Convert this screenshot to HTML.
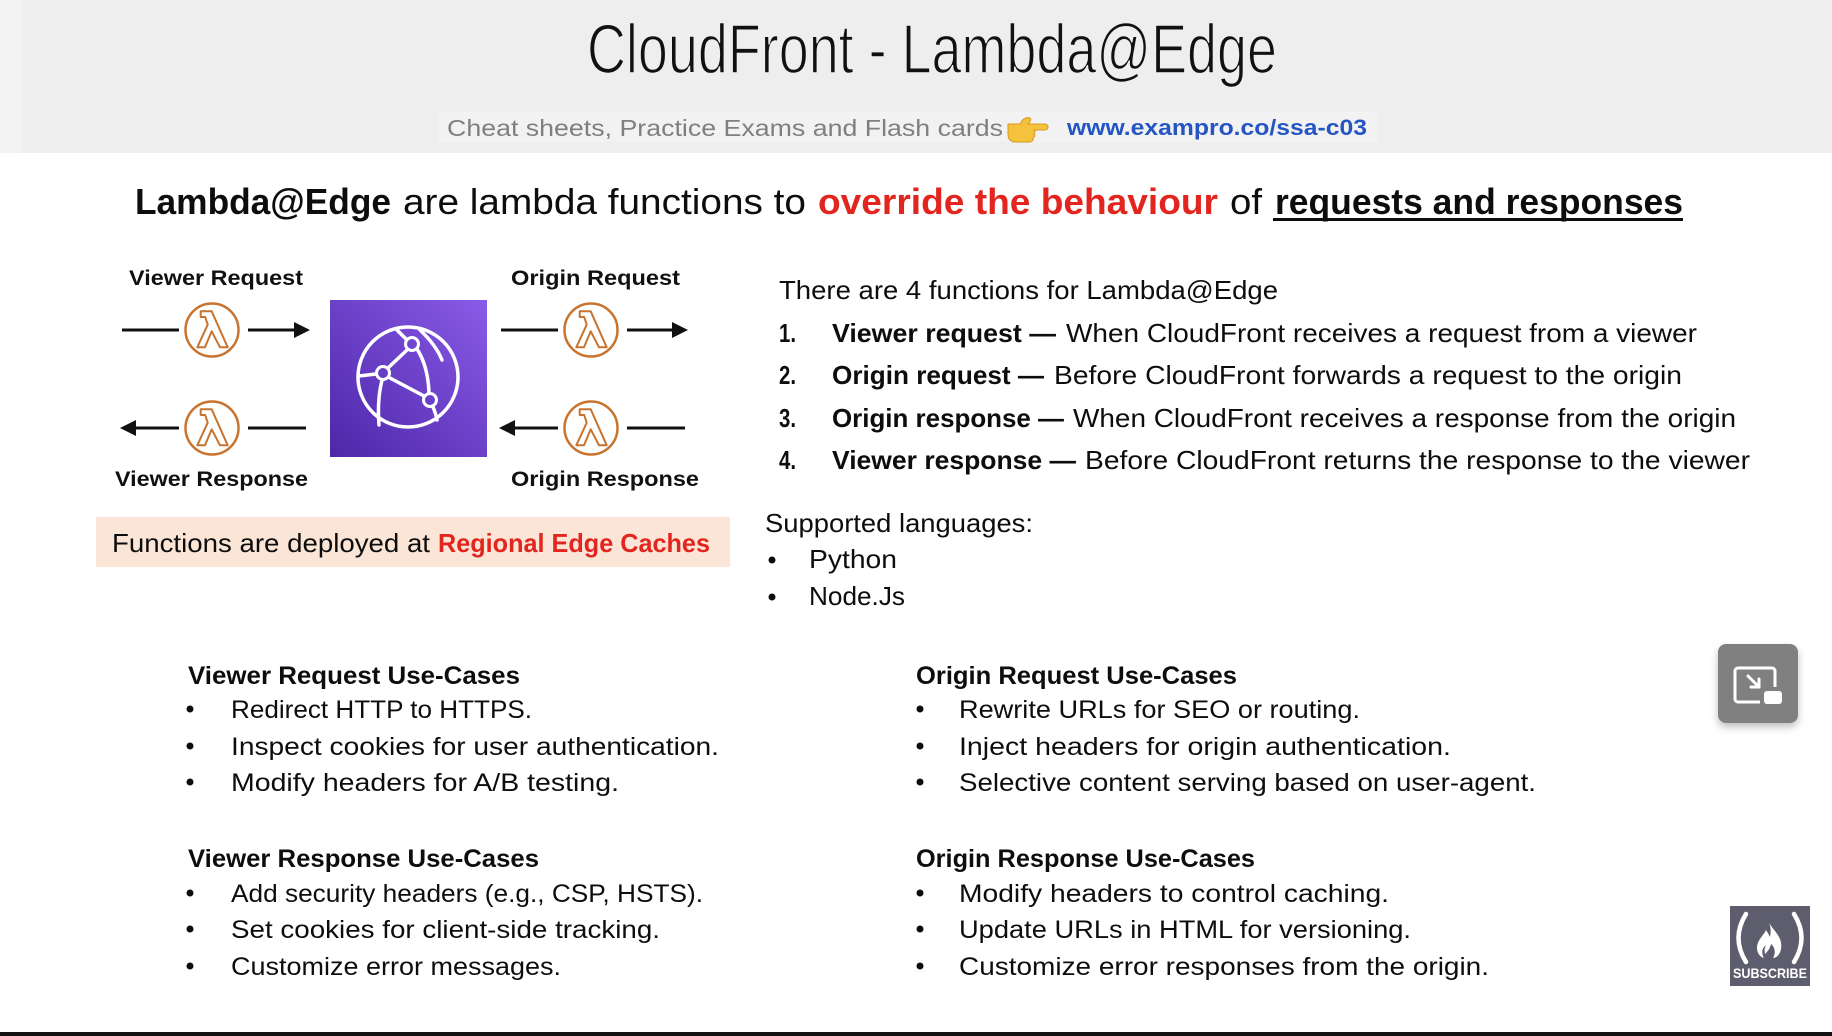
<!DOCTYPE html>
<html>
<head>
<meta charset="utf-8">
<style>
html,body{margin:0;padding:0;background:#fff;}
svg{display:block;}
text{font-family:"Liberation Sans",Arial,sans-serif;}
</style>
</head>
<body>
<svg width="1832" height="1036" viewBox="0 0 1832 1036" xmlns="http://www.w3.org/2000/svg">
<defs>
  <linearGradient id="pg" x1="0" y1="1" x2="1" y2="0">
    <stop offset="0" stop-color="#4d27a8"/>
    <stop offset="1" stop-color="#8a5be8"/>
  </linearGradient>
  <filter id="sh" x="-30%" y="-30%" width="160%" height="170%">
    <feDropShadow dx="0" dy="4" stdDeviation="4" flood-color="#000" flood-opacity="0.25"/>
  </filter>
</defs>

<!-- background -->
<rect x="0" y="0" width="1832" height="1036" fill="#ffffff"/>
<rect x="0" y="0" width="1832" height="153" fill="#eeeeee"/>
<rect x="0" y="0" width="22" height="153" fill="#f3f3f3"/>
<rect x="438" y="112" width="940" height="30" fill="#f2f2f2"/>

<!-- title -->
<text x="587" y="73" font-size="70" fill="#111" stroke="#eeeeee" stroke-width="1.6" textLength="690" lengthAdjust="spacingAndGlyphs">CloudFront - Lambda@Edge</text>

<!-- subtitle -->
<text x="447" y="136" font-size="23" fill="#7f7f7f" textLength="556" lengthAdjust="spacingAndGlyphs">Cheat sheets, Practice Exams and Flash cards</text>
<g>
  <path d="M1008,124 h12 q4,-8 10,-6 q2,2 -2,6 h16 q4,0 4,3 q0,3 -4,3 h-10 q2,2 0,4 q2,2 -1,4 q1,3 -3,4 h-14 q-8,0 -8,-8 z" fill="#f4c23c" stroke="#d89a1e" stroke-width="1"/>
</g>
<text x="1067" y="135" font-size="22" font-weight="bold" fill="#2455c3" textLength="300" lengthAdjust="spacingAndGlyphs">www.exampro.co/ssa-c03</text>

<!-- main statement -->
<text x="135" y="214" font-size="36" font-weight="bold" fill="#0d0d0d" textLength="256" lengthAdjust="spacingAndGlyphs">Lambda@Edge</text>
<text x="403" y="214" font-size="36" fill="#0d0d0d" textLength="403" lengthAdjust="spacingAndGlyphs">are lambda functions to</text>
<text x="818" y="214" font-size="36" font-weight="bold" fill="#e2261f" textLength="400" lengthAdjust="spacingAndGlyphs">override the behaviour</text>
<text x="1230" y="214" font-size="36" fill="#0d0d0d" textLength="32" lengthAdjust="spacingAndGlyphs">of</text>
<text x="1275" y="214" font-size="36" font-weight="bold" fill="#0d0d0d" textLength="408" lengthAdjust="spacingAndGlyphs">requests and responses</text>
<rect x="1273" y="218" width="410" height="3" fill="#0d0d0d"/>

<!-- diagram labels -->
<text x="129" y="285" font-size="21" font-weight="bold" fill="#111" textLength="174" lengthAdjust="spacingAndGlyphs">Viewer Request</text>
<text x="511" y="285" font-size="21" font-weight="bold" fill="#111" textLength="169" lengthAdjust="spacingAndGlyphs">Origin Request</text>
<text x="115" y="486" font-size="21" font-weight="bold" fill="#111" textLength="193" lengthAdjust="spacingAndGlyphs">Viewer Response</text>
<text x="511" y="486" font-size="21" font-weight="bold" fill="#111" textLength="188" lengthAdjust="spacingAndGlyphs">Origin Response</text>

<!-- connectors -->
<g stroke="#111" stroke-width="3" fill="none">
  <line x1="122" y1="330" x2="179" y2="330"/>
  <line x1="248" y1="330" x2="298" y2="330"/>
  <line x1="501" y1="330" x2="558" y2="330"/>
  <line x1="627" y1="330" x2="676" y2="330"/>
  <line x1="132" y1="428" x2="179" y2="428"/>
  <line x1="248" y1="428" x2="306" y2="428"/>
  <line x1="511" y1="428" x2="558" y2="428"/>
  <line x1="627" y1="428" x2="685" y2="428"/>
</g>
<g fill="#111">
  <polygon points="310,330 294,322 294,338"/>
  <polygon points="688,330 672,322 672,338"/>
  <polygon points="120,428 136,420 136,436"/>
  <polygon points="499,428 515,420 515,436"/>
</g>

<!-- lambda icons -->
<g fill="none" stroke="#c8742f" stroke-width="2.5" stroke-linejoin="round">
  <g transform="translate(212,330)">
    <circle cx="0" cy="0" r="26.5"/>
    <path d="M-11.3,-18.7 L-0.3,-18.7 L15.7,17.3 L8,17.3 L-0.3,1.3 L-7,17.3 L-14.7,17.3 L-4.3,-5.3 L-6.8,-13 L-11.3,-13 Z" stroke-width="2"/>
  </g>
  <g transform="translate(591,330)">
    <circle cx="0" cy="0" r="26.5"/>
    <path d="M-11.3,-18.7 L-0.3,-18.7 L15.7,17.3 L8,17.3 L-0.3,1.3 L-7,17.3 L-14.7,17.3 L-4.3,-5.3 L-6.8,-13 L-11.3,-13 Z" stroke-width="2"/>
  </g>
  <g transform="translate(212,428)">
    <circle cx="0" cy="0" r="26.5"/>
    <path d="M-11.3,-18.7 L-0.3,-18.7 L15.7,17.3 L8,17.3 L-0.3,1.3 L-7,17.3 L-14.7,17.3 L-4.3,-5.3 L-6.8,-13 L-11.3,-13 Z" stroke-width="2"/>
  </g>
  <g transform="translate(591,428)">
    <circle cx="0" cy="0" r="26.5"/>
    <path d="M-11.3,-18.7 L-0.3,-18.7 L15.7,17.3 L8,17.3 L-0.3,1.3 L-7,17.3 L-14.7,17.3 L-4.3,-5.3 L-6.8,-13 L-11.3,-13 Z" stroke-width="2"/>
  </g>
</g>

<!-- CloudFront icon -->
<rect x="330" y="300" width="157" height="157" fill="url(#pg)"/>
<g fill="none" stroke="#fff" stroke-width="3.5" stroke-linecap="round">
  <circle cx="408" cy="377" r="50"/>
  <line x1="396" y1="329" x2="406" y2="339"/>
  <line x1="407" y1="350" x2="389" y2="367"/>
  <line x1="376" y1="374" x2="359" y2="376"/>
  <line x1="390" y1="378" x2="424" y2="396"/>
  <path d="M417,349 Q428,366 429,393"/>
  <path d="M433,407 Q436,414 437,420"/>
  <path d="M382,380 Q377,400 379,425"/>
  <path d="M420,330 Q436,345 442,360"/>
  <circle cx="412" cy="344" r="6.5" stroke-width="3"/>
  <circle cx="383" cy="373" r="6.5" stroke-width="3"/>
  <circle cx="430" cy="400" r="6.5" stroke-width="3"/>
</g>

<!-- functions box -->
<rect x="96" y="517" width="634" height="50" fill="#fbe5d6"/>
<text x="112" y="552" font-size="26" fill="#0d0d0d" textLength="318" lengthAdjust="spacingAndGlyphs">Functions are deployed at</text>
<text x="438" y="552" font-size="26" font-weight="bold" fill="#e2261f" textLength="272" lengthAdjust="spacingAndGlyphs">Regional Edge Caches</text>

<!-- right list -->
<text x="779" y="299" font-size="26" fill="#0d0d0d" textLength="499" lengthAdjust="spacingAndGlyphs">There are 4 functions for Lambda@Edge</text>

<text x="779" y="342" font-size="26" font-weight="bold" fill="#0d0d0d" textLength="17" lengthAdjust="spacingAndGlyphs">1.</text>
<text x="832" y="342" font-size="26" font-weight="bold" fill="#0d0d0d" textLength="224" lengthAdjust="spacingAndGlyphs">Viewer request —</text>
<text x="1066" y="342" font-size="26" fill="#0d0d0d" textLength="631" lengthAdjust="spacingAndGlyphs">When CloudFront receives a request from a viewer</text>

<text x="779" y="384" font-size="26" font-weight="bold" fill="#0d0d0d" textLength="17" lengthAdjust="spacingAndGlyphs">2.</text>
<text x="832" y="384" font-size="26" font-weight="bold" fill="#0d0d0d" textLength="212" lengthAdjust="spacingAndGlyphs">Origin request —</text>
<text x="1054" y="384" font-size="26" fill="#0d0d0d" textLength="628" lengthAdjust="spacingAndGlyphs">Before CloudFront forwards a request to the origin</text>

<text x="779" y="427" font-size="26" font-weight="bold" fill="#0d0d0d" textLength="17" lengthAdjust="spacingAndGlyphs">3.</text>
<text x="832" y="427" font-size="26" font-weight="bold" fill="#0d0d0d" textLength="232" lengthAdjust="spacingAndGlyphs">Origin response —</text>
<text x="1073" y="427" font-size="26" fill="#0d0d0d" textLength="663" lengthAdjust="spacingAndGlyphs">When CloudFront receives a response from the origin</text>

<text x="779" y="469" font-size="26" font-weight="bold" fill="#0d0d0d" textLength="17" lengthAdjust="spacingAndGlyphs">4.</text>
<text x="832" y="469" font-size="26" font-weight="bold" fill="#0d0d0d" textLength="244" lengthAdjust="spacingAndGlyphs">Viewer response —</text>
<text x="1085" y="469" font-size="26" fill="#0d0d0d" textLength="665" lengthAdjust="spacingAndGlyphs">Before CloudFront returns the response to the viewer</text>

<text x="765" y="532" font-size="26" fill="#0d0d0d" textLength="268" lengthAdjust="spacingAndGlyphs">Supported languages:</text>
<circle cx="772" cy="560" r="3.5" fill="#0d0d0d"/>
<text x="809" y="568" font-size="26" fill="#0d0d0d" textLength="88" lengthAdjust="spacingAndGlyphs">Python</text>
<circle cx="772" cy="597" r="3.5" fill="#0d0d0d"/>
<text x="809" y="605" font-size="26" fill="#0d0d0d" textLength="96" lengthAdjust="spacingAndGlyphs">Node.Js</text>

<!-- use cases left -->
<text x="188" y="684" font-size="25" font-weight="bold" fill="#0d0d0d" textLength="332" lengthAdjust="spacingAndGlyphs">Viewer Request Use-Cases</text>
<circle cx="190" cy="709" r="3.5" fill="#0d0d0d"/>
<text x="231" y="718" font-size="25" fill="#0d0d0d" textLength="301" lengthAdjust="spacingAndGlyphs">Redirect HTTP to HTTPS.</text>
<circle cx="190" cy="746" r="3.5" fill="#0d0d0d"/>
<text x="231" y="755" font-size="25" fill="#0d0d0d" textLength="488" lengthAdjust="spacingAndGlyphs">Inspect cookies for user authentication.</text>
<circle cx="190" cy="782" r="3.5" fill="#0d0d0d"/>
<text x="231" y="791" font-size="25" fill="#0d0d0d" textLength="388" lengthAdjust="spacingAndGlyphs">Modify headers for A/B testing.</text>

<text x="188" y="867" font-size="25" font-weight="bold" fill="#0d0d0d" textLength="351" lengthAdjust="spacingAndGlyphs">Viewer Response Use-Cases</text>
<circle cx="190" cy="893" r="3.5" fill="#0d0d0d"/>
<text x="231" y="902" font-size="25" fill="#0d0d0d" textLength="472" lengthAdjust="spacingAndGlyphs">Add security headers (e.g., CSP, HSTS).</text>
<circle cx="190" cy="929" r="3.5" fill="#0d0d0d"/>
<text x="231" y="938" font-size="25" fill="#0d0d0d" textLength="429" lengthAdjust="spacingAndGlyphs">Set cookies for client-side tracking.</text>
<circle cx="190" cy="966" r="3.5" fill="#0d0d0d"/>
<text x="231" y="975" font-size="25" fill="#0d0d0d" textLength="330" lengthAdjust="spacingAndGlyphs">Customize error messages.</text>

<!-- use cases right -->
<text x="916" y="684" font-size="25" font-weight="bold" fill="#0d0d0d" textLength="321" lengthAdjust="spacingAndGlyphs">Origin Request Use-Cases</text>
<circle cx="920" cy="709" r="3.5" fill="#0d0d0d"/>
<text x="959" y="718" font-size="25" fill="#0d0d0d" textLength="401" lengthAdjust="spacingAndGlyphs">Rewrite URLs for SEO or routing.</text>
<circle cx="920" cy="746" r="3.5" fill="#0d0d0d"/>
<text x="959" y="755" font-size="25" fill="#0d0d0d" textLength="492" lengthAdjust="spacingAndGlyphs">Inject headers for origin authentication.</text>
<circle cx="920" cy="782" r="3.5" fill="#0d0d0d"/>
<text x="959" y="791" font-size="25" fill="#0d0d0d" textLength="577" lengthAdjust="spacingAndGlyphs">Selective content serving based on user-agent.</text>

<text x="916" y="867" font-size="25" font-weight="bold" fill="#0d0d0d" textLength="339" lengthAdjust="spacingAndGlyphs">Origin Response Use-Cases</text>
<circle cx="920" cy="893" r="3.5" fill="#0d0d0d"/>
<text x="959" y="902" font-size="25" fill="#0d0d0d" textLength="430" lengthAdjust="spacingAndGlyphs">Modify headers to control caching.</text>
<circle cx="920" cy="929" r="3.5" fill="#0d0d0d"/>
<text x="959" y="938" font-size="25" fill="#0d0d0d" textLength="452" lengthAdjust="spacingAndGlyphs">Update URLs in HTML for versioning.</text>
<circle cx="920" cy="966" r="3.5" fill="#0d0d0d"/>
<text x="959" y="975" font-size="25" fill="#0d0d0d" textLength="530" lengthAdjust="spacingAndGlyphs">Customize error responses from the origin.</text>

<!-- picture-in-picture button -->
<rect x="1718" y="644" width="80" height="79" rx="8" fill="#808080" filter="url(#sh)"/>
<rect x="1735" y="668" width="40" height="34" rx="3" fill="none" stroke="#fff" stroke-width="3"/>
<rect x="1760" y="687" width="26" height="21" rx="3" fill="#808080"/>
<rect x="1764" y="691" width="18" height="13" rx="3" fill="#fff"/>
<g stroke="#fff" stroke-width="3" fill="none" stroke-linecap="round" stroke-linejoin="round">
  <line x1="1748" y1="676" x2="1759" y2="687"/>
  <polyline points="1759,679 1759,687 1751,687"/>
</g>

<!-- subscribe logo -->
<rect x="1730" y="906" width="80" height="80" fill="#5d5d6d"/>
<g fill="none" stroke="#fff" stroke-width="4.5" stroke-linecap="round">
  <path d="M1746,914 Q1731,938 1746,962"/>
  <path d="M1794,914 Q1809,938 1794,962"/>
</g>
<path d="M1769,923 C1775,932 1783,938 1781,949 C1780,955 1776,958 1773,958 C1776,953 1775,947 1771,944 C1770,949 1767,952 1765,954 C1764,950 1765,947 1766,945 C1762,948 1761,953 1764,958 C1760,957 1757,953 1757,948 C1757,940 1764,935 1766,930 C1768,933 1769,935 1770,937 C1771,932 1771,927 1769,923 Z" fill="#fff"/>
<text x="1733" y="978" font-size="14" font-weight="bold" fill="#fff" textLength="74" lengthAdjust="spacingAndGlyphs">SUBSCRIBE</text>

<!-- bottom bar -->
<rect x="0" y="1032" width="1832" height="4" fill="#111"/>
</svg>
</body>
</html>
